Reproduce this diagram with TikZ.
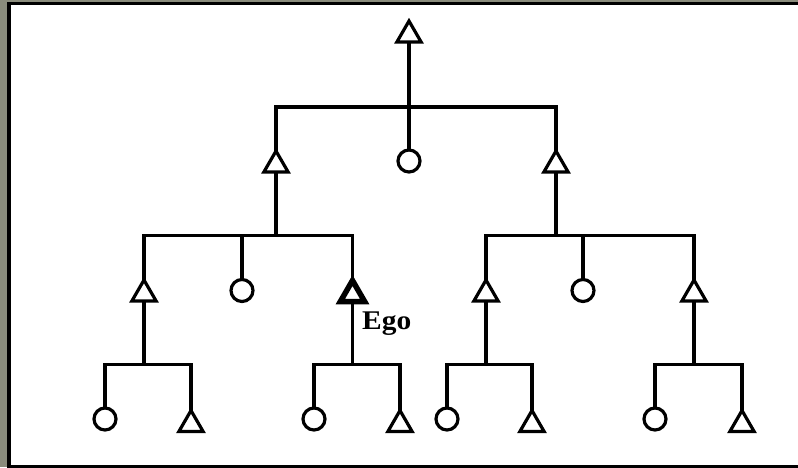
\documentclass[tikz,border=0pt]{standalone}
\usepackage{fontspec}
\usepackage{graphicx}
\setmainfont{Liberation Serif}
\usetikzlibrary{shapes.geometric}
\definecolor{framegray}{RGB}{138,140,124}
\begin{document}
\begin{tikzpicture}[x=1pt,y=-1pt,
  male/.style={regular polygon,regular polygon sides=3,draw,line width=3.2pt,minimum size=28pt,inner sep=0pt,outer sep=0pt,anchor=north},
  female/.style={circle,draw,line width=3.2pt,minimum size=22pt,inner sep=0pt,outer sep=0pt,anchor=north},
  egobox/.style={male,line width=5.5pt,minimum size=28pt},
  kin/.style={line width=3.2pt,line join=miter}]
\useasboundingbox (0,0) rectangle (798,467);
\clip (0,0) rectangle (798,467);
% frame
\fill[framegray] (0,0) rectangle (798,467);
\fill[black] (7,2) rectangle (810,470);
\fill[white] (10.5,5) rectangle (810,464.5);
% bar levels
\coordinate (b1) at (0,107);
\coordinate (b2) at (0,235.5);
\coordinate (b3) at (0,364.5);
% generation 1
\node[male] (t1) at (409,21) {};
% generation 2
\node[male] (t2L) at (276,151) {};
\node[female] (c2) at (409,150) {};
\node[male] (t2R) at (556,151) {};
% generation 3
\node[male] (t3a) at (144,280) {};
\node[female] (c3a) at (242,279.5) {};
\node[egobox] (ego) at (352.5,280.5) {};
\node[male] (t3b) at (486,280) {};
\node[female] (c3b) at (583,279.5) {};
\node[male] (t3c) at (694,280) {};
% generation 4
\node[female] (c4a) at (105,408) {};
\node[male] (t4a) at (191,410.5) {};
\node[female] (c4b) at (314,408) {};
\node[male] (t4b) at (400,410.5) {};
\node[female] (c4c) at (447,408) {};
\node[male] (t4c) at (532,410.5) {};
\node[female] (c4d) at (655,408) {};
\node[male] (t4d) at (742,410.5) {};
% label
\node[anchor=base west,inner sep=0pt,font=\fontsize{27}{27}\selectfont\bfseries] (egolabel) at (362,329.5) {\scalebox{1.09}[1]{Ego}};
% connectors gen1 -> gen2
\draw[kin] (t1.south) -- (c2.north);
\draw[kin] (t2L.north) -- (t2L.north |- b1) -- (t2R.north |- b1) -- (t2R.north);
% gen2 left -> gen3
\draw[kin] (t2L.south) -- (t2L.south |- b2);
\draw[kin] (t3a.north) -- (t3a.north |- b2) -- (ego.north |- b2) -- (ego.north);
\draw[kin] (c3a.north |- b2) -- (c3a.north);
% gen2 right -> gen3
\draw[kin] (t2R.south) -- (t2R.south |- b2);
\draw[kin] (t3b.north) -- (t3b.north |- b2) -- (t3c.north |- b2) -- (t3c.north);
\draw[kin] (c3b.north |- b2) -- (c3b.north);
% gen3 -> gen4
\draw[kin] (t3a.south) -- (t3a.south |- b3);
\draw[kin] (c4a.north) -- (c4a.north |- b3) -- (t4a.north |- b3) -- (t4a.north);
\draw[kin] (ego.south) -- (ego.south |- b3);
\draw[kin] (c4b.north) -- (c4b.north |- b3) -- (t4b.north |- b3) -- (t4b.north);
\draw[kin] (t3b.south) -- (t3b.south |- b3);
\draw[kin] (c4c.north) -- (c4c.north |- b3) -- (t4c.north |- b3) -- (t4c.north);
\draw[kin] (t3c.south) -- (t3c.south |- b3);
\draw[kin] (c4d.north) -- (c4d.north |- b3) -- (t4d.north |- b3) -- (t4d.north);
\end{tikzpicture}
\end{document}
